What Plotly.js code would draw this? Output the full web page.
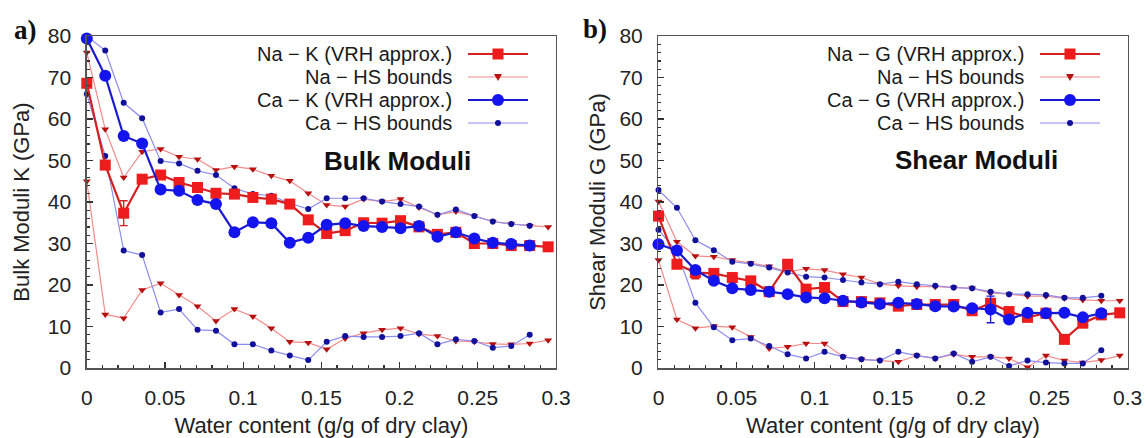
<!DOCTYPE html>
<html>
<head>
<meta charset="utf-8">
<script src="https://cdn.plot.ly/plotly-3.0.1.min.js"></script>
<style>html,body{margin:0;padding:0;background:#fff;}#chart{width:1148px;height:438px;}</style>
</head>
<body>
<div id="chart"></div>
<script>
// Water content (g/g of dry clay)
const water = [0, 0.0118, 0.0236, 0.0354, 0.0472, 0.059, 0.0708, 0.0826, 0.0944, 0.1062, 0.118, 0.1298, 0.1416, 0.1534, 0.1652, 0.177, 0.1888, 0.2006, 0.2124, 0.2242, 0.236, 0.2478, 0.2596, 0.2714, 0.2832, 0.295];
const waterCa = [0, 0.0118, 0.0236, 0.0354, 0.0472, 0.059, 0.0708, 0.0826, 0.0944, 0.1062, 0.118, 0.1298, 0.1416, 0.1534, 0.1652, 0.177, 0.1888, 0.2006, 0.2124, 0.2242, 0.236, 0.2478, 0.2596, 0.2714, 0.2832];

// (a) Bulk moduli K (GPa)
const naK      = [68.6, 48.9, 37.3, 45.5, 46.5, 44.7, 43.5, 42.1, 41.9, 41.1, 40.7, 39.5, 35.7, 32.4, 33.1, 35.0, 34.9, 35.5, 34.0, 32.2, 32.7, 30.0, 30.0, 29.5, 29.5, 29.2];
const naKerr   = [0, 0, 3, 0, 0, 0, 0, 0, 0, 0, 0, 0, 0, 0, 0, 0, 0, 0, 0, 0, 0, 0, 0, 0, 0, 0];
const naKupper = [76, 57.5, 45.9, 52.1, 52.8, 50.9, 50.3, 47.7, 48.5, 47.9, 46.3, 45.1, 42.1, 39.3, 38.9, 40.7, 40.1, 40.7, 38.7, 36.9, 37.7, 36.6, 35.3, 34.7, 34.3, 34.0];
const naKlower = [45, 12.9, 12.0, 18.8, 20.4, 17.6, 14.9, 11.3, 14.2, 12.4, 9.6, 6.3, 6.1, 4.5, 7.1, 8.4, 9.2, 9.6, 8.2, 7.7, 6.5, 6.3, 5.8, 5.7, 5.9, 6.7];
const caK      = [79.4, 70.4, 55.9, 54.1, 43.0, 42.7, 40.5, 39.5, 32.7, 35.1, 34.9, 30.2, 31.4, 34.5, 34.9, 34.2, 34.0, 33.7, 34.2, 31.6, 32.7, 31.2, 30.2, 29.9, 29.5];
const caKupper = [80, 76.5, 63.9, 60.2, 49.9, 49.3, 47.5, 46.5, 43.3, 41.9, 41.5, 39.7, 38.3, 40.9, 40.9, 40.9, 40.1, 39.5, 38.9, 36.9, 38.2, 36.6, 35.3, 34.7, 34.3];
const caKlower = [66, 51.1, 28.3, 27.2, 13.4, 14.2, 9.2, 9.0, 5.7, 5.7, 4.2, 3.0, 1.9, 6.3, 7.7, 7.5, 7.5, 7.7, 8.4, 5.7, 6.9, 6.5, 4.9, 5.3, 8.0];

// (b) Shear moduli G (GPa)
const naG      = [36.6, 25.0, 23.0, 22.8, 21.8, 21.0, 18.4, 25.0, 19.0, 19.4, 16.0, 16.0, 15.7, 14.9, 15.3, 15.3, 15.3, 13.8, 15.6, 13.6, 12.2, 13.2, 6.9, 10.8, 12.8, 13.3];
const naGerr   = [0, 0, 1.5, 0, 0, 0, 0, 0, 0, 0, 0, 0, 0, 0, 0, 0, 0, 0, 0, 0, 0, 0, 0, 0, 0, 0];
const naGupper = [40.1, 30.4, 27.0, 26.8, 26.0, 25.3, 24.5, 23.2, 23.9, 23.6, 22.6, 21.8, 20.2, 19.8, 19.6, 19.6, 19.4, 19.2, 18.1, 17.8, 17.3, 17.3, 16.8, 16.4, 16.2, 16.2];
const naGlower = [26, 11.7, 9.6, 10.1, 9.8, 7.5, 4.7, 5.1, 5.9, 5.9, 2.7, 2.1, 1.8, 1.5, 3.0, 2.3, 3.3, 2.7, 2.7, 2.3, 0.2, 3.0, 1.8, 1.3, 1.9, 3.0];
const caG      = [29.8, 28.3, 23.6, 21.0, 19.2, 18.8, 18.4, 17.8, 17.0, 16.8, 16.2, 15.8, 15.4, 15.7, 15.4, 14.9, 14.8, 14.4, 14.1, 11.7, 13.3, 13.2, 13.3, 12.2, 13.2];
const caGerr   = [0, 0, 0, 0, 0, 0, 0, 0, 0, 0, 0, 0, 0, 0, 0, 0, 0, 0, 3.2, 0, 0, 0, 0, 0, 0];
const caGupper = [42.9, 38.6, 30.8, 28.4, 25.6, 25.1, 24.2, 23.0, 22.0, 21.8, 21.2, 20.6, 20.2, 20.8, 20.2, 19.8, 19.4, 19.2, 18.4, 17.8, 17.8, 17.6, 16.9, 16.9, 17.4];
const caGlower = [33.3, 28, 15.7, 9.8, 6.7, 7.1, 5.3, 3.3, 2.3, 3.9, 2.7, 2.1, 1.8, 3.9, 3.0, 2.3, 3.5, 1.5, 2.7, 0.5, 1.8, 1.3, 1.1, 1.1, 4.3];

// Tick labels and texts
const xTickVals = [0, 0.05, 0.1, 0.15, 0.2, 0.25, 0.3];
const xTickText = ["0", "0.05", "0.1", "0.15", "0.2", "0.25", "0.3"];
const yTickVals = [0, 10, 20, 30, 40, 50, 60, 70, 80];
const legendK = ["Na \u2212 K (VRH approx.)", "Na \u2212 HS bounds", "Ca \u2212 K (VRH approx.)", "Ca \u2212 HS bounds"];
const legendG = ["Na \u2212 G (VRH approx.)", "Na \u2212 HS bounds", "Ca \u2212 G (VRH approx.)", "Ca \u2212 HS bounds"];

// Styles
const FONT = "Liberation Sans, Arial, Helvetica, sans-serif";
const RED = "#ee1c1c", RED_LINE = "#d42020", RED_THIN = "#f28a8a", RED_DARK = "#b80f0f";
const BLUE = "#1414ee", BLUE_LINE = "#1a1ad0", BLUE_THIN = "#8c8cf0", BLUE_DARK = "#10109a";

function hs(x, y, color, mcolor, symbol, size, xa, ya, name) {
  return {x: x, y: y, xaxis: xa, yaxis: ya, type: "scatter", mode: "lines+markers", name: name,
    line: {color: color, width: 1.2}, marker: {color: mcolor, symbol: symbol, size: size},
    cliponaxis: false, showlegend: false, hoverinfo: "x+y"};
}
function vrh(x, y, err, color, lcolor, symbol, size, xa, ya, name) {
  const t = {x: x, y: y, xaxis: xa, yaxis: ya, type: "scatter", mode: "lines+markers", name: name,
    line: {color: lcolor, width: 2.2}, marker: {color: color, symbol: symbol, size: size},
    cliponaxis: false, showlegend: false};
  if (err) t.error_y = {type: "data", array: err, visible: true, color: lcolor, thickness: 1.3, width: 4};
  return t;
}

const data = [
  hs(water, naKupper, RED_THIN, RED_DARK, "triangle-down", 7, "x", "y", "Na \u2212 HS bounds"),
  hs(water, naKlower, RED_THIN, RED_DARK, "triangle-down", 7, "x", "y", "Na \u2212 HS bounds"),
  hs(waterCa, caKupper, BLUE_THIN, BLUE_DARK, "circle", 6, "x", "y", "Ca \u2212 HS bounds"),
  hs(waterCa, caKlower, BLUE_THIN, BLUE_DARK, "circle", 6, "x", "y", "Ca \u2212 HS bounds"),
  vrh(water, naK, naKerr, RED, RED_LINE, "square", 11, "x", "y", legendK[0]),
  vrh(waterCa, caK, null, BLUE, BLUE_LINE, "circle", 12, "x", "y", legendK[2]),

  hs(water, naGupper, RED_THIN, RED_DARK, "triangle-down", 7, "x2", "y2", "Na \u2212 HS bounds"),
  hs(water, naGlower, RED_THIN, RED_DARK, "triangle-down", 7, "x2", "y2", "Na \u2212 HS bounds"),
  hs(waterCa, caGupper, BLUE_THIN, BLUE_DARK, "circle", 6, "x2", "y2", "Ca \u2212 HS bounds"),
  hs(waterCa, caGlower, BLUE_THIN, BLUE_DARK, "circle", 6, "x2", "y2", "Ca \u2212 HS bounds"),
  vrh(water, naG, naGerr, RED, RED_LINE, "square", 11, "x2", "y2", legendG[0]),
  vrh(waterCa, caG, caGerr, BLUE, BLUE_LINE, "circle", 12, "x2", "y2", legendG[2])
];

function xaxis(domain, anchor) {
  return {domain: domain, anchor: anchor, range: [0, 0.3], tickvals: xTickVals, ticktext: xTickText,
    ticks: "inside", ticklen: 6, tickwidth: 1.2, tickcolor: "#333",
    minor: {dtick: 0.01, ticks: "inside", ticklen: 3, tickcolor: "#333", showgrid: false},
    showgrid: false, zeroline: false, showline: true, mirror: true, linecolor: "#555", linewidth: 1.5,
    ticklabelstandoff: 10,
    tickfont: {family: FONT, size: 21, color: "#222"},
    title: {text: "Water content (g/g of dry clay)", font: {family: FONT, size: 22, color: "#222"}, standoff: 12}};
}
function yaxis(anchor, title, standoff) {
  return {domain: [0, 1], anchor: anchor, range: [0, 80], tickvals: yTickVals,
    ticks: "inside", ticklen: 6, tickwidth: 1.2, tickcolor: "#333",
    minor: {dtick: 2, ticks: "inside", ticklen: 3, tickcolor: "#333", showgrid: false},
    showgrid: false, zeroline: false, showline: true, mirror: true, linecolor: "#555", linewidth: 1.5,
    ticklabelstandoff: 10,
    tickfont: {family: FONT, size: 21, color: "#222"},
    title: {text: title, font: {family: FONT, size: 22, color: "#222"}, standoff: standoff}};
}

// Legend geometry (paper fractions)
const W = 1148, PH = 332, PB = 368;
const px = v => v / W, py = v => (PB - v) / PH;
const rowsY = [54, 77, 100, 123];
const panels = [{textRight: 453, lineL: 468, lineR: 528, mark: 498, labels: legendK},
                {textRight: 1025, lineL: 1040, lineR: 1100, mark: 1070, labels: legendG}];
const rowStyle = [
  {line: RED_LINE, w: 2.2, mark: "rect", mc: RED, s: 5.5},
  {line: RED_THIN, w: 1.2, mark: "tri", mc: RED_DARK, s: 3.5},
  {line: BLUE_LINE, w: 2.2, mark: "circle", mc: BLUE, s: 6},
  {line: BLUE_THIN, w: 1.2, mark: "circle", mc: BLUE_DARK, s: 3}
];
const annotations = [];
const shapes = [];
panels.forEach(p => {
  p.labels.forEach((lab, i) => {
    const st = rowStyle[i];
    annotations.push({xref: "paper", yref: "paper", x: px(p.textRight), y: py(rowsY[i]), text: lab,
      showarrow: false, xanchor: "right", yanchor: "middle", borderpad: 0,
      font: {family: FONT, size: 20, color: "#1a1a1a"}});
    shapes.push({type: "line", xref: "paper", yref: "paper", x0: px(p.lineL), x1: px(p.lineR),
      y0: py(rowsY[i]), y1: py(rowsY[i]), line: {color: st.line, width: st.w}});
    const base = {xref: "paper", yref: "paper", xsizemode: "pixel", ysizemode: "pixel",
      xanchor: px(p.mark), yanchor: py(rowsY[i]), fillcolor: st.mc, line: {width: 0}};
    if (st.mark === "tri") {
      shapes.push(Object.assign({type: "path", path: "M -4,3 L 4,3 L 0,-4 Z"}, base));
    } else {
      shapes.push(Object.assign({type: st.mark, x0: -st.s, x1: st.s, y0: -st.s, y1: st.s}, base));
    }
  });
});
annotations.push({xref: "paper", yref: "paper", x: px(397), y: py(161), text: "<b>Bulk Moduli</b>",
  showarrow: false, xanchor: "center", yanchor: "middle", font: {family: FONT, size: 26, color: "#111"}});
annotations.push({xref: "paper", yref: "paper", x: px(976), y: py(160), text: "<b>Shear Moduli</b>",
  showarrow: false, xanchor: "center", yanchor: "middle", font: {family: FONT, size: 26, color: "#111"}});
annotations.push({xref: "paper", yref: "paper", x: px(25), y: py(30), text: "<b>a)</b>",
  showarrow: false, xanchor: "center", yanchor: "middle", font: {family: "Liberation Serif, Times New Roman, serif", size: 27, color: "#111"}});
annotations.push({xref: "paper", yref: "paper", x: px(595), y: py(29), text: "<b>b)</b>",
  showarrow: false, xanchor: "center", yanchor: "middle", font: {family: "Liberation Serif, Times New Roman, serif", size: 27, color: "#111"}});

const layout = {
  width: 1148, height: 438,
  margin: {l: 0, r: 0, t: 36, b: 70, autoexpand: false},
  paper_bgcolor: "#fff", plot_bgcolor: "#fff",
  showlegend: false,
  xaxis: xaxis([0.0756, 0.4843], "y"),
  yaxis: yaxis("x", "Bulk Moduli K (GPa)", 12),
  xaxis2: xaxis([0.5736, 0.9822], "y2"),
  yaxis2: yaxis("x2", "Shear Moduli G (GPa)", 7),
  annotations: annotations,
  shapes: shapes
};

Plotly.newPlot("chart", data, layout, {displayModeBar: false, staticPlot: true});
</script>
</body>
</html>
